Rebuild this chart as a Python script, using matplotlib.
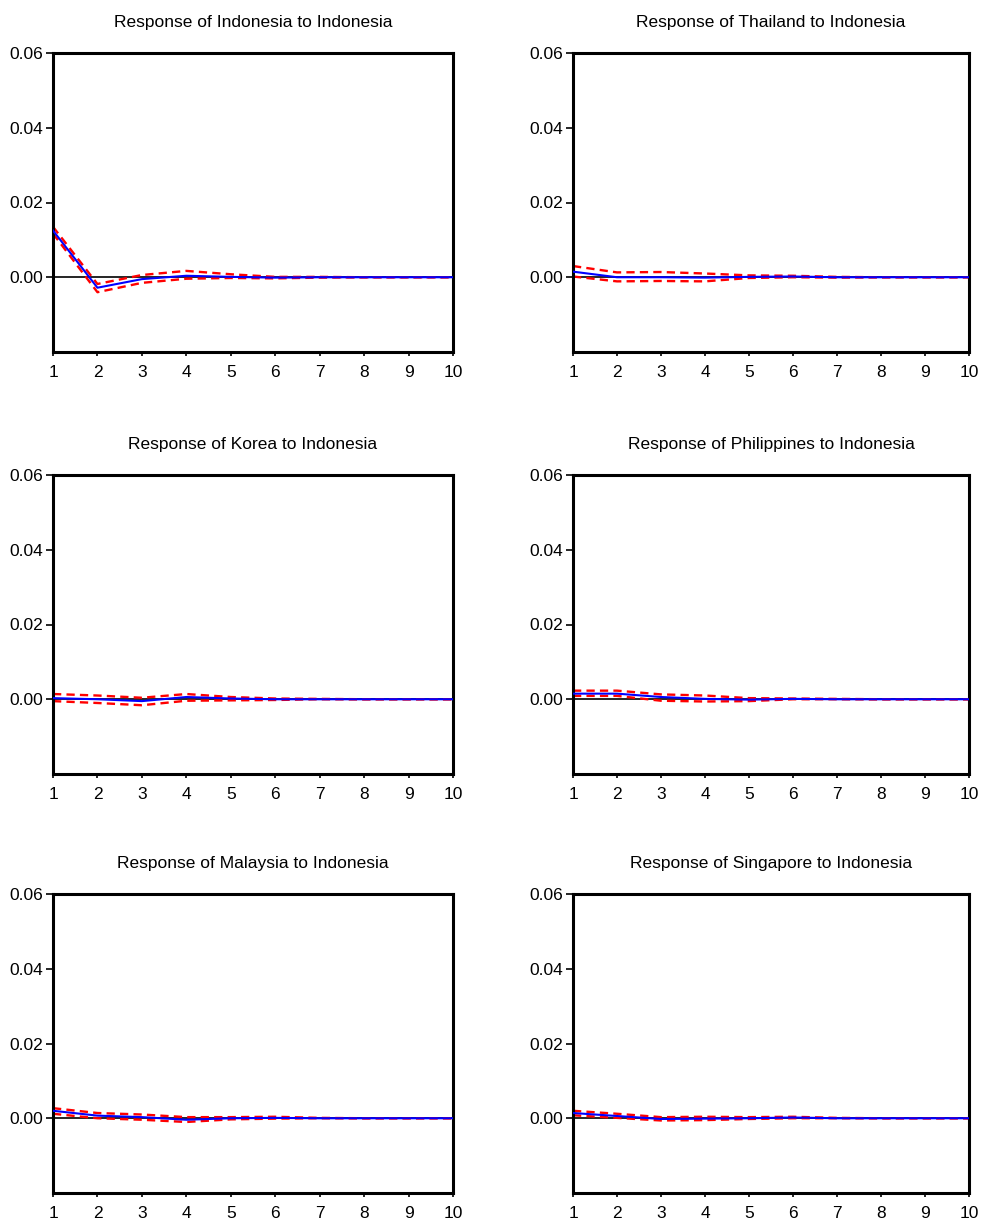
import numpy as np
import matplotlib.pyplot as plt
from matplotlib.ticker import FormatStrFormatter

periods = np.arange(1, 11)

titles = [
    "Response of Indonesia to Indonesia",
    "Response of Thailand to Indonesia",
    "Response of Korea to Indonesia",
    "Response of Philippines to Indonesia",
    "Response of Malaysia to Indonesia",
    "Response of Singapore to Indonesia",
]

# impulse responses (blue) and +/- 2 s.e. bands (red dashed)
indonesia = [0.0125, -0.0028, -0.0005, 0.0004, 0.0001, -0.0001, 0.0, 0.0, 0.0, 0.0]
indonesia_up = [0.0135, -0.0018, 0.0006, 0.0017, 0.0008, 0.0001, 0.0001, 0.0, 0.0, 0.0]
indonesia_lo = [0.0117, -0.0040, -0.0015, -0.0004, -0.0002, -0.0003, -0.0001, 0.0, 0.0, 0.0]

thailand = [0.0015, 0.0, 0.0, -0.0001, 0.0001, 0.0002, 0.0, 0.0, 0.0, 0.0]
thailand_up = [0.0030, 0.0013, 0.0014, 0.0010, 0.0005, 0.0004, 0.0001, 0.0, 0.0, 0.0]
thailand_lo = [0.0002, -0.0011, -0.0010, -0.0011, -0.0002, 0.0, -0.0001, 0.0, 0.0, 0.0]

korea = [0.0003, 0.0, -0.0005, 0.0006, 0.0002, 0.0, 0.0, 0.0, 0.0, 0.0]
korea_up = [0.0014, 0.0010, 0.0004, 0.0014, 0.0006, 0.0002, 0.0001, 0.0, 0.0, 0.0]
korea_lo = [-0.0005, -0.0010, -0.0016, -0.0004, -0.0003, -0.0002, 0.0, 0.0, 0.0, 0.0]

philippines = [0.0015, 0.0015, 0.0006, 0.0001, -0.0001, 0.0001, 0.0, 0.0, 0.0, 0.0]
philippines_up = [0.0023, 0.0023, 0.0013, 0.0010, 0.0003, 0.0002, 0.0001, 0.0, 0.0, 0.0]
philippines_lo = [0.0009, 0.0009, -0.0004, -0.0006, -0.0005, 0.0, 0.0, 0.0, 0.0, 0.0]

malaysia = [0.0020, 0.0007, 0.0003, -0.0004, 0.0, 0.0001, 0.0, 0.0, 0.0, 0.0]
malaysia_up = [0.0027, 0.0014, 0.0010, 0.0003, 0.0003, 0.0004, 0.0001, 0.0, 0.0, 0.0]
malaysia_lo = [0.0012, 0.0, -0.0004, -0.0010, -0.0003, -0.0001, 0.0, 0.0, 0.0, 0.0]

singapore = [0.0014, 0.0006, -0.0002, -0.0001, 0.0, 0.0002, 0.0, 0.0, 0.0, 0.0]
singapore_up = [0.0020, 0.0012, 0.0003, 0.0004, 0.0003, 0.0004, 0.0001, 0.0, 0.0, 0.0]
singapore_lo = [0.0008, 0.0001, -0.0006, -0.0005, -0.0002, 0.0, 0.0, 0.0, 0.0, 0.0]

responses = [indonesia, thailand, korea, philippines, malaysia, singapore]
uppers = [indonesia_up, thailand_up, korea_up, philippines_up, malaysia_up, singapore_up]
lowers = [indonesia_lo, thailand_lo, korea_lo, philippines_lo, malaysia_lo, singapore_lo]

plt.rcParams['font.family'] = ['Liberation Sans', 'DejaVu Sans']

W, H = 984, 1224
fig = plt.figure(figsize=(W / 100, H / 100), dpi=100)

lefts = [53, 573]
widths = [400, 396]
tops = [53, 475, 894]
ax_h = 299

for i in range(6):
    r, c = divmod(i, 2)
    ax = fig.add_axes([lefts[c] / W, 1 - (tops[r] + ax_h) / H, widths[c] / W, ax_h / H])
    ax.axhline(0, color='black', lw=1.2, zorder=1)
    ax.plot(periods, uppers[i], color='#ff0000', lw=1.7, dashes=(3.5, 2.2), zorder=2)
    ax.plot(periods, lowers[i], color='#ff0000', lw=1.7, dashes=(3.5, 2.2), zorder=2)
    ax.plot(periods, responses[i], color='#0000ff', lw=1.5, zorder=3)
    ax.set_xlim(1, 10)
    ax.set_ylim(-0.02, 0.06)
    ax.set_xticks(periods)
    ax.set_yticks([0.0, 0.02, 0.04, 0.06])
    ax.yaxis.set_major_formatter(FormatStrFormatter('%.2f'))
    for sp in ax.spines.values():
        sp.set_linewidth(2.2)
    ax.tick_params(axis='y', direction='out', length=5, width=1.2, labelsize=12.5, pad=2)
    ax.tick_params(axis='x', direction='out', length=3, width=1.2, labelsize=12.5, pad=6.5)
    ax.set_title(titles[i], fontsize=12.5, pad=19)

fig.savefig('out.png', dpi=100)
